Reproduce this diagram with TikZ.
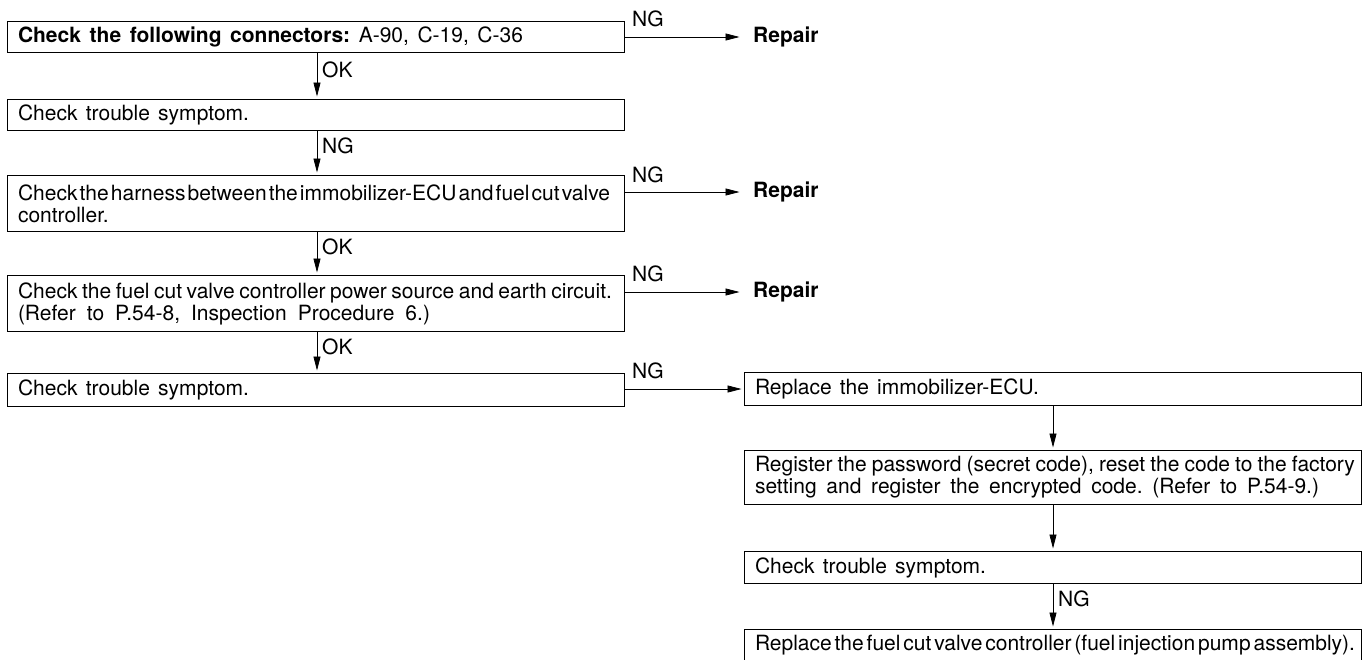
\documentclass[tikz,border=0pt]{standalone}
\usepackage{fontspec}
\setmainfont{TeX Gyre Heros}
\usetikzlibrary{arrows.meta}
% set a line of text to a given width, the spaces taking up the rest
\newcommand\spreadto[2]{\hbox to #1{\frenchspacing\spaceskip=0pt plus 1fil\relax #2}}

\begin{document}
\begin{tikzpicture}[x=1pt,y=-1pt,
  font=\fontsize{21}{22}\selectfont,
  stepbox/.style={draw, line width=1pt, anchor=north west, text width=596pt,
    align=left, inner xsep=10.5pt, inner ysep=0pt, minimum height=#1},
  stepbox/.default=31pt,
  flow/.style={line width=0.8pt, shorten >=2.5pt, -{Triangle[length=14pt,width=7pt]}},
  tag/.style={anchor=west, inner sep=0pt},
  repair/.style={anchor=west, inner ysep=0pt, inner xsep=11pt}]
  \useasboundingbox (0,0) rectangle (1366,659);
  \clip (0,0) rectangle (1366,659);
  \coordinate (colL) at (317,0);
  \coordinate (colR) at (1053,0);
  % left column
  \node[stepbox] (conn) at (7,21) {\spreadto{505pt}{\textbf{Check the following connectors:} A-90, C-19, C-36}};
  \node[stepbox] (sym1) at (7,99) {\spreadto{231pt}{Check trouble symptom.}};
  \node[stepbox=56pt] (harn) at (7,175) {\spreadto{592pt}{Check the harness between the immobilizer-ECU and fuel cut valve}\\controller.};
  \node[stepbox=56pt] (pwr) at (7,275) {\spreadto{594pt}{Check the fuel cut valve controller power source and earth circuit.}\\\spreadto{412pt}{(Refer to P.54-8, Inspection Procedure 6.)}};
  \node[stepbox=33pt] (sym2) at (7,373) {\spreadto{231pt}{Check trouble symptom.}};
  % right column
  \node[stepbox=33pt] (ecu) at (744,372) {\spreadto{284pt}{Replace the immobilizer-ECU.}};
  \node[stepbox=54pt] (pass) at (744,450) {\spreadto{600pt}{Register the password (secret code), reset the code to the factory}\\\spreadto{564pt}{setting and register the encrypted code. (Refer to P.54-9.)}};
  \node[stepbox=32pt] (sym3) at (744,551) {\spreadto{231pt}{Check trouble symptom.}};
  \node[stepbox=32pt] (valve) at (744,629) {\spreadto{600pt}{Replace the fuel cut valve controller (fuel injection pump assembly).}};
  % repair ends
  \node[repair] (rep1) at (742,37) {\bfseries Repair};
  \node[repair] (rep2) at (742,192) {\bfseries Repair};
  \node[repair] (rep3) at (742,292) {\bfseries Repair};
  % NG branches
  \draw[flow] (rep1.west -| conn.east) -- (rep1.west);
  \draw[flow] (rep2.west -| harn.east) -- (rep2.west);
  \draw[flow] (rep3.west -| pwr.east) -- (rep3.west);
  \draw[flow] (ecu.west -| sym2.east) -- (ecu.west);
  \node[tag] (ng1) at (632,19) {NG};
  \node[tag] (ng2) at (632,174.5) {NG};
  \node[tag] (ng3) at (632,274) {NG};
  \node[tag] (ng4) at (632,371) {NG};
  % down the columns
  \draw[flow] (conn.south -| colL) -- (sym1.north -| colL);
  \draw[flow] (sym1.south -| colL) -- (harn.north -| colL);
  \draw[flow] (harn.south -| colL) -- (pwr.north -| colL);
  \draw[flow] (pwr.south -| colL) -- (sym2.north -| colL);
  \draw[flow] (ecu.south -| colR) -- (pass.north -| colR);
  \draw[flow] (pass.south -| colR) -- (sym3.north -| colR);
  \draw[flow] (sym3.south -| colR) -- (valve.north -| colR);
  \node[tag] (ok1) at (322,70) {OK};
  \node[tag] (ng5) at (322,146) {NG};
  \node[tag] (ok2) at (322,247) {OK};
  \node[tag] (ok3) at (322,347) {OK};
  \node[tag] (ng6) at (1058,599) {NG};
\end{tikzpicture}
\end{document}
